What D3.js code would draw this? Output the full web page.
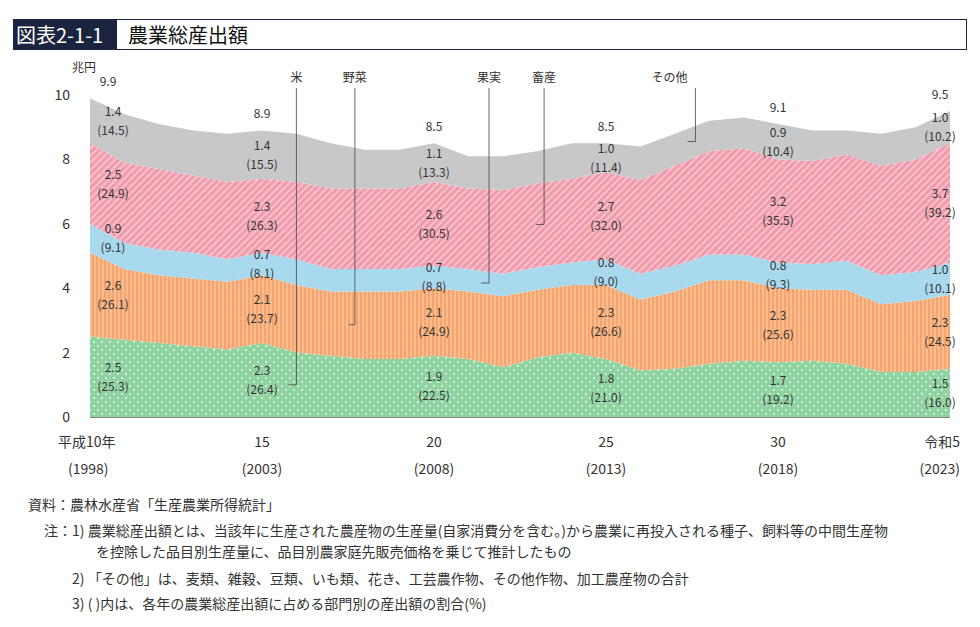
<!DOCTYPE html>
<html><head><meta charset="utf-8">
<script src="https://cdn.jsdelivr.net/npm/d3@7"></script>
<style>body{margin:0;background:#fff;font-family:"Noto Sans CJK JP","Noto Sans",sans-serif;}</style>
</head><body><svg id="chart" width="980" height="627"></svg>
<script>
// data (兆円)
const years = d3.range(1998, 2024);
const rice =  [2.5,2.4,2.3,2.2,2.1,2.3,2.0,1.9,1.8,1.8,1.9,1.8,1.55,1.85,2.0,1.8,1.45,1.5,1.65,1.75,1.7,1.75,1.65,1.4,1.4,1.5];
const veg =   [2.6,2.2,2.1,2.1,2.1,2.1,2.1,2.0,2.1,2.1,2.1,2.1,2.2,2.1,2.1,2.3,2.2,2.4,2.6,2.5,2.3,2.2,2.3,2.1,2.2,2.3];
const fruit = [0.9,0.8,0.8,0.8,0.7,0.7,0.8,0.7,0.7,0.7,0.7,0.7,0.7,0.7,0.7,0.8,0.8,0.8,0.8,0.8,0.8,0.8,0.9,0.9,0.9,1.0];
const live =  [2.5,2.5,2.5,2.4,2.4,2.3,2.4,2.5,2.5,2.5,2.6,2.5,2.6,2.6,2.6,2.7,2.9,3.1,3.2,3.3,3.2,3.2,3.3,3.4,3.5,3.7];
const other = [1.4,1.5,1.4,1.4,1.5,1.5,1.5,1.4,1.2,1.2,1.2,1.0,1.05,1.0,1.1,0.9,1.05,1.0,0.95,0.95,1.1,0.95,0.75,1.0,1.0,1.0];
const keys = ["rice","veg","fruit","live","other"];
const labelYears = [1998,2003,2008,2013,2018,2023];
const xTop = ["平成10年","15","20","25","30","令和5"];
const xBot = ["(1998)","(2003)","(2008)","(2013)","(2018)","(2023)"];
const totals = ["9.9","8.9","8.5","8.5","9.1","9.5"];
const lblVal = {rice:["2.5","2.3","1.9","1.8","1.7","1.5"],veg:["2.6","2.1","2.1","2.3","2.3","2.3"],
  fruit:["0.9","0.7","0.7","0.8","0.8","1.0"],live:["2.5","2.3","2.6","2.7","3.2","3.7"],other:["1.4","1.4","1.1","1.0","0.9","1.0"]};
const lblPct = {rice:["(25.3)","(26.4)","(22.5)","(21.0)","(19.2)","(16.0)"],veg:["(26.1)","(23.7)","(24.9)","(26.6)","(25.6)","(24.5)"],
  fruit:["(9.1)","(8.1)","(8.8)","(9.0)","(9.3)","(10.1)"],live:["(24.9)","(26.3)","(30.5)","(32.0)","(35.5)","(39.2)"],other:["(14.5)","(15.5)","(13.3)","(11.4)","(10.4)","(10.2)"]};
const names = {rice:"米",veg:"野菜",fruit:"果実",live:"畜産",other:"その他"};

const rows = years.map((y,i)=>({year:y,rice:rice[i],veg:veg[i],fruit:fruit[i],live:live[i],other:other[i]}));
const svg = d3.select("#chart");
const x = d3.scaleLinear().domain([1998,2023]).range([90,950]);
const y = d3.scaleLinear().domain([0,10]).range([417,95]);

// patterns
const defs = svg.append("defs");
let p = defs.append("pattern").attr("id","pRice").attr("width",8).attr("height",8).attr("patternUnits","userSpaceOnUse");
p.append("rect").attr("width",8).attr("height",8).attr("fill","#8fd3a0");
p.append("circle").attr("cx",2).attr("cy",2).attr("r",1).attr("fill","#e8f7ec");
p.append("circle").attr("cx",6).attr("cy",6).attr("r",1).attr("fill","#e8f7ec");
p = defs.append("pattern").attr("id","pVeg").attr("width",4).attr("height",4).attr("patternUnits","userSpaceOnUse");
p.append("rect").attr("width",4).attr("height",4).attr("fill","#f5a56c");
p.append("rect").attr("x",2.5).attr("width",1).attr("height",4).attr("fill","#fbd3b4");
p = defs.append("pattern").attr("id","pLive").attr("width",5).attr("height",5).attr("patternUnits","userSpaceOnUse").attr("patternTransform","rotate(45)");
p.append("rect").attr("width",5).attr("height",5).attr("fill","#f09aab");
p.append("rect").attr("x",3.5).attr("width",1.3).attr("height",5).attr("fill","#fbd6dd");
const fills = {rice:"url(#pRice)",veg:"url(#pVeg)",fruit:"#a9d9ec",live:"url(#pLive)",other:"#c8c8c8"};

const series = d3.stack().keys(keys)(rows);
const area = d3.area().x(d=>x(d.data.year)).y0(d=>y(d[0])).y1(d=>y(d[1]));
svg.append("g").selectAll("path").data(series).join("path")
  .attr("d",area).attr("fill",d=>fills[d.key]);

// axes
svg.append("line").attr("x1",90).attr("x2",950).attr("y1",417.5).attr("y2",417.5).attr("stroke","#888");
const ya = svg.append("g").attr("font-size",14).attr("fill","#333");
[0,2,4,6,8,10].forEach(v=>ya.append("text").attr("x",70).attr("y",y(v)+5).attr("text-anchor","end").text(v));
svg.append("text").attr("x",72).attr("y",72).attr("font-size",12).attr("fill","#333").text("兆円");
labelYears.forEach((yr,i)=>{
  const anc = i===0?"start":(i===5?"end":"middle");
  const xx = i===0?58:(i===5?960:x(yr));
  svg.append("text").attr("x",xx).attr("y",447).attr("font-size",14).attr("fill","#333").attr("text-anchor",anc).text(xTop[i]);
  svg.append("text").attr("x",i===0?68:xx).attr("y",474).attr("font-size",14).attr("fill","#333").attr("text-anchor",anc).text(xBot[i]);
});

// value labels
const lg = svg.append("g").attr("font-size",12).attr("fill","#333").attr("text-anchor","middle");
labelYears.forEach((yr,i)=>{
  const idx = yr-1998;
  const lx = i===0?113:(i===5?940:x(yr));
  series.forEach(s=>{
    const d = s[idx], mid = (y(d[0])+y(d[1]))/2;
    lg.append("text").attr("x",lx).attr("y",mid-5).text(lblVal[s.key][i]);
    lg.append("text").attr("x",lx).attr("y",mid+14).text(lblPct[s.key][i]);
  });
  lg.append("text").attr("x",i===0?108:(i===5?940:x(yr))).attr("y",y(d3.sum(keys,k=>rows[idx][k]))-12).text(totals[i]);
});

// series callouts
const callouts = [{k:"rice",yr:2004.0,dx:-8},{k:"veg",yr:2005.7,dx:-6},{k:"fruit",yr:2009.6,dx:-8},
  {k:"live",yr:2011.2,dx:-8},{k:"other",yr:2015.6,dx:-8}];
callouts.forEach(c=>{
  const si = keys.indexOf(c.k), i0 = Math.floor(c.yr)-1998, t = c.yr-Math.floor(c.yr);
  const s = series[si];
  const mid = ((s[i0][0]+s[i0][1])/2)*(1-t)+((s[i0+1][0]+s[i0+1][1])/2)*t;
  const yy = y(mid), xx = x(c.yr);
  svg.append("path").attr("d",`M${xx},88V${yy}H${xx+c.dx}`).attr("fill","none").attr("stroke","#444").attr("stroke-width",0.8);
  svg.append("text").attr("x",xx+(c.k==="other"?-8:0)).attr("y",82).attr("font-size",12).attr("fill","#333")
    .attr("text-anchor",c.k==="other"?"end":"middle").text(names[c.k]);
});

// title
svg.append("rect").attr("x",13.5).attr("y",19.5).attr("width",953).attr("height",30).attr("fill","none").attr("stroke","#1a2440");
svg.append("rect").attr("x",13).attr("y",19).attr("width",104).attr("height",31).attr("fill","#1a2440");
svg.append("text").attr("x",16).attr("y",43).attr("font-size",20).attr("fill","#fff").text("図表2-1-1");
svg.append("text").attr("x",128).attr("y",43).attr("font-size",20).attr("fill","#111").text("農業総産出額");

// notes
const notes = [[28,510,"資料：農林水産省「生産農業所得統計」"],
 [44,536,"注：1)  農業総産出額とは、当該年に生産された農産物の生産量(自家消費分を含む。)から農業に再投入される種子、飼料等の中間生産物"],
 [96,557,"を控除した品目別生産量に、品目別農家庭先販売価格を乗じて推計したもの"],
 [72,584,"2)  「その他」は、麦類、雑穀、豆類、いも類、花き、工芸農作物、その他作物、加工農産物の合計"],
 [72,609,"3) (    )内は、各年の農業総産出額に占める部門別の産出額の割合(%)"]];
notes.forEach(n=>svg.append("text").attr("x",n[0]).attr("y",n[1]).attr("font-size",14).attr("fill","#333").text(n[2]));
</script></body></html>
